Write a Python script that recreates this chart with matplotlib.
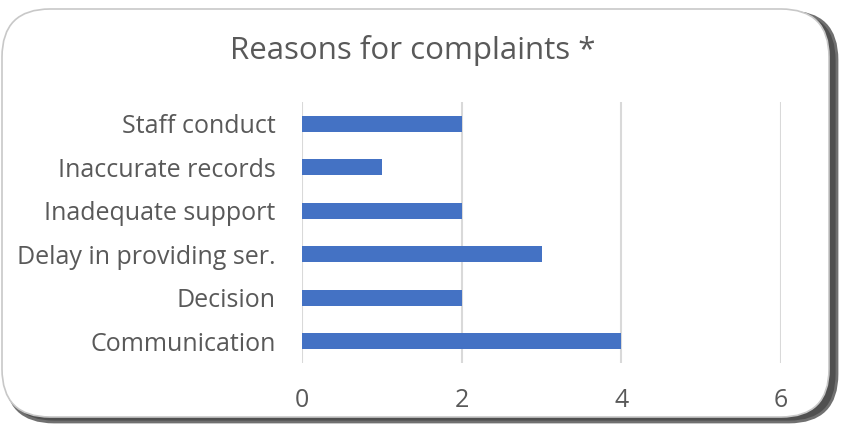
import matplotlib.pyplot as plt
from matplotlib.patches import FancyBboxPatch

categories = ['Communication', 'Decision', 'Delay in providing ser.',
              'Inadequate support', 'Inaccurate records', 'Staff conduct']
values = [4, 2, 3, 2, 1, 2]
ticks = [0, 2, 4, 6]

plt.rcParams['font.family'] = ['Open Sans', 'DejaVu Sans']
TXT = '#595959'

fig = plt.figure(figsize=(8.41, 4.29), dpi=100)

# frame with shadow, in pixel coords
bg = fig.add_axes([0, 0, 1, 1])
bg.set_xlim(0, 841)
bg.set_ylim(429, 0)
bg.axis('off')
shadow = FancyBboxPatch((6, 12), 831, 410, boxstyle='round,pad=0,rounding_size=48',
                        fc='#505050', ec='#707070', lw=2)
bg.add_patch(shadow)
box = FancyBboxPatch((2, 9), 827, 408, boxstyle='round,pad=0,rounding_size=48',
                     fc='white', ec='#c8c8c8', lw=1.2)
bg.add_patch(box)

ax = fig.add_axes([302 / 841, 1 - 363 / 429, 479 / 841, 261 / 429])
ax.patch.set_alpha(0)
ax.barh(range(len(categories)), values, height=0.37, color='#4472C4', zorder=3)
ax.set_xlim(0, 6)
ax.set_ylim(-0.5, len(categories) - 0.5)
ax.set_xticks(ticks)
ax.set_yticks(range(len(categories)))
ax.set_yticklabels(categories)
ax.grid(axis='x', color='#d9d9d9', lw=1.5, zorder=0)
for s in ax.spines.values():
    s.set_visible(False)
ax.tick_params(length=0, labelsize=18, labelcolor=TXT)
ax.tick_params(axis='x', pad=18)
ax.tick_params(axis='y', pad=19)

fig.text(413 / 841, 1 - 51 / 429, 'Reasons for complaints *', ha='center', va='center',
         fontsize=22.5, color=TXT)

fig.savefig('out.png', dpi=100)
